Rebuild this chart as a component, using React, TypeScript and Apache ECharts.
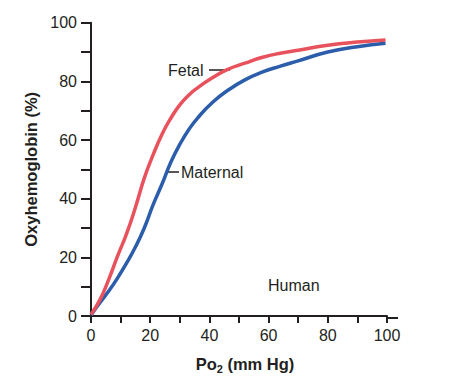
import React, { useEffect, useRef } from "react";
import * as echarts from "echarts";

const fetalX = [0, 3, 6, 9, 12, 15, 18, 21, 24, 27, 30, 33, 36, 41, 46, 52, 58, 64, 70, 80, 90, 99.5];
const fetalY = [0.5, 5.5, 12.5, 20.5, 28, 37, 47, 55, 62, 67.5, 72, 75.3, 77.8, 81.2, 84, 86.2, 88.2, 89.6, 90.6, 92.3, 93.4, 94.1];
const maternalX = [0, 3, 6, 9, 12, 15, 18, 21, 24, 27, 30, 33, 36, 41, 46, 52, 58, 64, 70, 80, 90, 99.5];
const maternalY = [0.3, 4.5, 8.5, 13, 18, 23.5, 30, 38, 45, 52.5, 58.5, 63.5, 67.5, 72.8, 76.8, 80.5, 83.2, 85.2, 87, 90, 91.8, 93];
const xTickLabels = [0, 20, 40, 60, 80, 100];
const yTickLabels = [0, 20, 40, 60, 80, 100];

const FONT = "'Liberation Sans', Arial, Helvetica, sans-serif";
const RED = "#e8525d";
const BLUE = "#2b5dab";
const INK = "#231f20";

export default function App() {
  const ref = useRef<HTMLDivElement>(null);
  useEffect(() => {
    if (!ref.current) return;
    const chart = echarts.init(ref.current, null, { renderer: "svg" });
    const pair = (xs: number[], ys: number[]) => xs.map((x, i) => [x, ys[i]]);
    chart.setOption({
      animation: false,
      backgroundColor: "#ffffff",
      grid: { left: 91, right: 65, top: 22.7, bottom: 61 },
      xAxis: {
        type: "value",
        min: 0,
        max: 100,
        interval: 10,
        name: "{a|Po}{s|2}{a| (mm Hg)}",
        nameLocation: "middle",
        nameGap: 38,
        nameTextStyle: {
          padding: [0, 0, 0, 12],
          rich: {
            a: { fontFamily: FONT, fontSize: 16.5, fontWeight: "bold", color: INK },
            s: { fontFamily: FONT, fontSize: 11, fontWeight: "bold", color: INK, verticalAlign: "bottom", padding: [9, 0, 0, 0] },
          },
        },
        axisLine: { lineStyle: { color: INK, width: 2 } },
        axisTick: { show: true, length: 7, lineStyle: { color: INK, width: 2 } },
        axisLabel: {
          color: INK,
          fontFamily: FONT,
          fontSize: 16,
          margin: 11,
          formatter: (v: number) => (xTickLabels.includes(v) ? String(v) : ""),
        },
        splitLine: { show: false },
      },
      yAxis: {
        type: "value",
        min: 0,
        max: 100,
        interval: 10,
        name: "Oxyhemoglobin (%)",
        nameLocation: "middle",
        nameGap: 52,
        nameRotate: 90,
        nameTextStyle: { fontFamily: FONT, fontSize: 16.5, fontWeight: "bold", color: INK },
        axisLine: { show: true, lineStyle: { color: INK, width: 2 } },
        axisTick: { show: true, length: 10, lineStyle: { color: INK, width: 2 } },
        axisLabel: {
          color: INK,
          fontFamily: FONT,
          fontSize: 16,
          margin: 14,
          formatter: (v: number) => (yTickLabels.includes(v) ? String(v) : ""),
        },
        splitLine: { show: false },
      },
      series: [
        {
          name: "Maternal",
          type: "line",
          data: pair(maternalX, maternalY),
          smooth: 0.5,
          showSymbol: false,
          lineStyle: { color: BLUE, width: 3.5 },
          z: 2,
        },
        {
          name: "Fetal",
          type: "line",
          data: pair(fetalX, fetalY),
          smooth: 0.5,
          showSymbol: false,
          lineStyle: { color: RED, width: 3.5 },
          z: 3,
        },
      ],
      graphic: [
        { type: "line", shape: { x1: 386, y1: 318, x2: 398, y2: 318 }, style: { stroke: INK, lineWidth: 2 } },
        { type: "text", x: 168, y: 70, style: { text: "Fetal", font: `16px ${FONT}`, fill: INK, textVerticalAlign: "middle" } },
        { type: "line", shape: { x1: 209, y1: 70, x2: 230, y2: 70 }, style: { stroke: INK, lineWidth: 1.5 } },
        { type: "text", x: 181, y: 172.5, style: { text: "Maternal", font: `16px ${FONT}`, fill: INK, textVerticalAlign: "middle" } },
        { type: "line", shape: { x1: 167, y1: 172, x2: 179, y2: 172 }, style: { stroke: INK, lineWidth: 1.5 } },
        { type: "text", x: 268, y: 285, style: { text: "Human", font: `16px ${FONT}`, fill: INK, textVerticalAlign: "middle" } },
      ],
    });
    return () => chart.dispose();
  }, []);
  return <div ref={ref} style={{ width: 452, height: 379, position: "absolute", left: 0, top: 0 }} />;
}
